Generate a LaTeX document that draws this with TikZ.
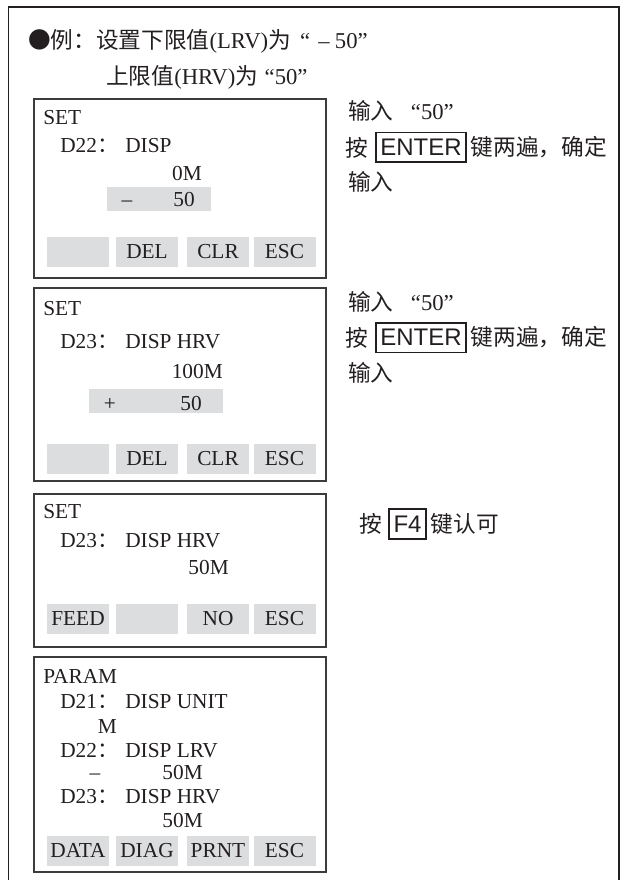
\documentclass[tikz,border=0pt]{standalone}
\usepackage{fontspec}
\setmainfont{Liberation Serif}
\newfontfamily\cjk{Noto Sans CJK SC}
\newfontfamily\keysans{Liberation Sans}
\usetikzlibrary{positioning}
\definecolor{ink}{HTML}{231F20}
\definecolor{bezel}{HTML}{3C3C3C}
\definecolor{lcdkey}{HTML}{DCDDDE}
\newcommand{\zh}[1]{{\cjk #1}}
\newcommand{\dline}[2]{\makebox[48.75pt][l]{#1\zh{：}}#2}

\begin{document}
\begin{tikzpicture}[x=0.75pt,y=-0.75pt,font=\fontsize{16pt}{18pt}\selectfont,text=ink]
\tikzset{scr/.style={draw=bezel,line width=1.1pt},txt/.style={anchor=base west,inner sep=0pt},num/.style={anchor=base east,inner sep=0pt},sign/.style={anchor=base,inner sep=0pt},softkey/.style={fill=lcdkey,minimum width=46.5pt,minimum height=22.5pt,inner sep=0pt},valbar/.style={fill=lcdkey},hardkey/.style={draw=ink,line width=1pt,inner sep=0pt,minimum height=22pt,font=\keysans\fontsize{18pt}{20pt}\selectfont},note/.style={inner sep=0pt,font=\fontsize{17pt}{20pt}\selectfont},head/.style={anchor=base west,inner sep=0pt,font=\fontsize{17pt}{20pt}\selectfont}}
\useasboundingbox (0,0) rectangle (626,880);
\draw[ink,line width=1pt] (8.5,880) |- (619,7) -- (619,880);
% header
\node[head] (h1) at (28,49) {\zh{●例：设置下限值}(LRV)\zh{为}\hspace{7pt}“\hspace{6pt}–\hspace{4pt}50”};
\node[head] (h2) at (106,85) {\zh{上限值}(HRV)\zh{为}\hspace{5pt}“50”};
% screen 1
\draw[scr] (34,99) rectangle (326,278);
\node[txt] (s1a) at (43,125) {SET};
\node[txt] (s1b) at (60,153) {\dline{D22}{DISP}};
\node[num] (s1c) at (202,181) {0M};
\fill[valbar] (107,187) rectangle (211,211);
\node[sign] (s1d) at (127,207) {–};
\node[num] (s1e) at (195,207) {50};
\foreach \cx/\lab [count=\i] in {78/,147/DEL,218/CLR,284.5/ESC}
  \node[softkey] (s1k\i) at (\cx,252) {\lab};
% note 1
\node[note,anchor=base west] (n1a) at (348,120) {\zh{输入}\hspace{13pt}“50”};
\node[hardkey,minimum width=67.5pt] (ent1) at (421,147.5) {ENTER};
\node[note,left=5pt of ent1] (n1b) {\zh{按}};
\node[note,right=3pt of ent1] (n1c) {\zh{键两遍，确定}};
\node[note,anchor=base west] (n1d) at (348,191) {\zh{输入}};
% screen 2
\draw[scr] (34,288) rectangle (326,481);
\node[txt] (s2a) at (43,315) {SET};
\node[txt] (s2b) at (60,348) {\dline{D23}{DISP HRV}};
\node[num] (s2c) at (223,378) {100M};
\fill[valbar] (89,389) rectangle (223,413);
\node[sign] (s2d) at (110,410) {+};
\node[num] (s2e) at (202,410) {50};
\foreach \cx/\lab [count=\i] in {78/,147/DEL,218/CLR,284.5/ESC}
  \node[softkey] (s2k\i) at (\cx,459) {\lab};
% note 2
\node[note,anchor=base west] (n2a) at (348,310) {\zh{输入}\hspace{13pt}“50”};
\node[hardkey,minimum width=67.5pt] (ent2) at (421,337.5) {ENTER};
\node[note,left=5pt of ent2] (n2b) {\zh{按}};
\node[note,right=3pt of ent2] (n2c) {\zh{键两遍，确定}};
\node[note,anchor=base west] (n2d) at (348,381) {\zh{输入}};
% screen 3
\draw[scr] (34,494) rectangle (326,647);
\node[txt] (s3a) at (43,518) {SET};
\node[txt] (s3b) at (60,547) {\dline{D23}{DISP HRV}};
\node[num] (s3c) at (229,574) {50M};
\foreach \cx/\lab [count=\i] in {78/FEED,147/,218/NO,284.5/ESC}
  \node[softkey] (s3k\i) at (\cx,618.5) {\lab};
% note 3
\node[hardkey,minimum width=27.75pt,minimum height=22.5pt] (f4) at (407.5,524) {F4};
\node[note,left=4.5pt of f4] (n3a) {\zh{按}};
\node[note,right=3pt of f4] (n3b) {\zh{键认可}};
% screen 4
\draw[scr] (34,657) rectangle (326,872);
\node[txt] (s4a) at (43,683) {PARAM};
\node[txt] (s4b) at (60,708) {\dline{D21}{DISP UNIT}};
\node[num] (s4c) at (117,733) {M};
\node[txt] (s4d) at (60,757) {\dline{D22}{DISP LRV}};
\node[sign] (s4e) at (95,779) {–};
\node[num] (s4f) at (203,779) {50M};
\node[txt] (s4g) at (60,803) {\dline{D23}{DISP HRV}};
\node[num] (s4h) at (203,827) {50M};
\foreach \cx/\lab [count=\i] in {78/DATA,147/DIAG,218/PRNT,284.5/ESC}
  \node[softkey] (s4k\i) at (\cx,850.5) {\lab};
\end{tikzpicture}
\end{document}
